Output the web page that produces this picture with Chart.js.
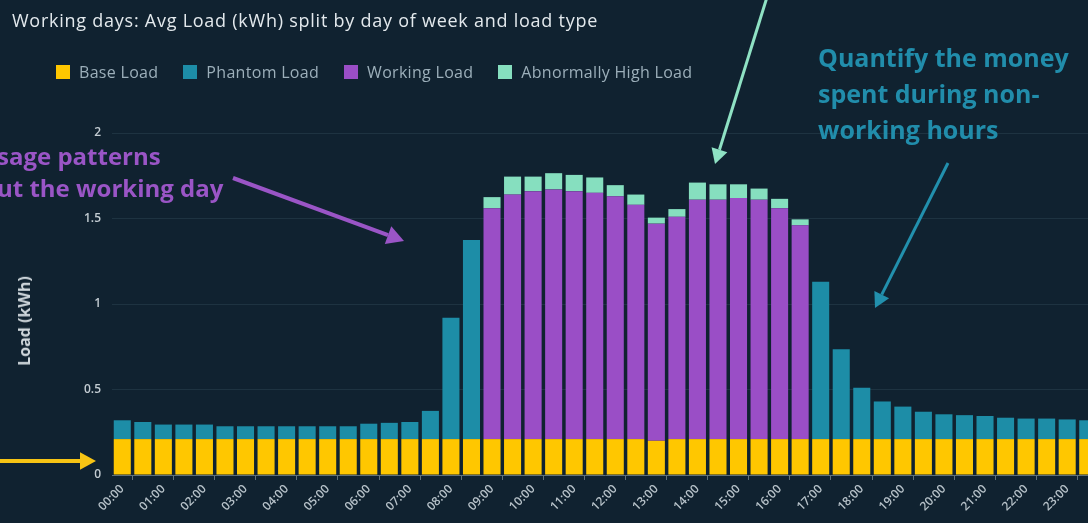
<!DOCTYPE html>
<html>
<head>
<meta charset="utf-8">
<script src="https://cdn.jsdelivr.net/npm/chart.js@4.4.1/dist/chart.umd.min.js"></script>
<style>
    html, body { margin: 0; padding: 0; background: #102230; width: 1088px; height: 523px; overflow: hidden; }
    #wrap { position: absolute; left: 0; top: 0; width: 1100px; height: 523px; }
    .title { position: absolute; left: 12px; top: 8px; font: 18px 'Open Sans', sans-serif; letter-spacing: 0.75px; color: #e3e9ed; white-space: nowrap; }
    .legend { position: absolute; left: 56px; top: 62px; display: flex; font: 16px 'Open Sans', sans-serif; letter-spacing: 0.3px; color: #9cafba; white-space: nowrap; }
    .legend .item { display: flex; align-items: center; margin-right: 25px; height: 20px; }
    .legend i { display: inline-block; width: 14px; height: 14px; margin-right: 9px; }
    .ytitle { position: absolute; left: 24px; top: 321px; transform: translate(-50%, -50%) rotate(-90deg); font: bold 16px 'Open Sans', sans-serif; color: #cfd7dc; white-space: nowrap; }
    .note { position: absolute; font-family: 'Open Sans', sans-serif; font-weight: bold; white-space: nowrap; }
    .note.purple { left: -3px; top: 140px; font-size: 24px; line-height: 32px; color: #9a55c6; }
    .note.teal { left: 818px; top: 39px; font-size: 25px; line-height: 36px; color: #218dab; }
</style>
</head>
<body>
<div id="wrap"><canvas id="chart" width="1100" height="523"></canvas></div>
<div class="title">Working days: Avg Load (kWh) split by day of week and load type</div>
<div class="legend" id="legend"></div>
<div class="ytitle">Load (kWh)</div>
<div class="note purple">sage patterns<br>ut the working day</div>
<div class="note teal">Quantify the money<br>spent during non-<br>working hours</div>
<script>
// half-hourly slots, only the full hours get a label
const slots = [
    '00:00', '00:30', '01:00', '01:30', '02:00', '02:30', '03:00', '03:30',
    '04:00', '04:30', '05:00', '05:30', '06:00', '06:30', '07:00', '07:30',
    '08:00', '08:30', '09:00', '09:30', '10:00', '10:30', '11:00', '11:30',
    '12:00', '12:30', '13:00', '13:30', '14:00', '14:30', '15:00', '15:30',
    '16:00', '16:30', '17:00', '17:30', '18:00', '18:30', '19:00', '19:30',
    '20:00', '20:30', '21:00', '21:30', '22:00', '22:30', '23:00', '23:30',
];

const baseLoad = [
    0.21, 0.21, 0.21, 0.21, 0.21, 0.21, 0.21, 0.21, 0.21, 0.21, 0.21, 0.21,
    0.21, 0.21, 0.21, 0.21, 0.21, 0.21, 0.21, 0.21, 0.21, 0.21, 0.21, 0.21,
    0.21, 0.21, 0.20, 0.21, 0.21, 0.21, 0.21, 0.21, 0.21, 0.21, 0.21, 0.21,
    0.21, 0.21, 0.21, 0.21, 0.21, 0.21, 0.21, 0.21, 0.21, 0.21, 0.21, 0.21,
];
const phantomLoad = [
    0.11, 0.10, 0.085, 0.085, 0.085, 0.075, 0.075, 0.075, 0.075, 0.075, 0.075, 0.075,
    0.09, 0.095, 0.10, 0.165, 0.71, 1.165, 0, 0, 0, 0, 0, 0,
    0, 0, 0, 0, 0, 0, 0, 0, 0, 0, 0.92, 0.525,
    0.30, 0.22, 0.19, 0.16, 0.145, 0.14, 0.135, 0.125, 0.12, 0.12, 0.115, 0.11,
];
const workingLoad = [
    null, null, null, null, null, null, null, null, null, null, null, null,
    null, null, null, null, null, null, 1.35, 1.43, 1.45, 1.46, 1.45, 1.44,
    1.42, 1.37, 1.27, 1.30, 1.40, 1.40, 1.41, 1.40, 1.35, 1.25, null, null,
    null, null, null, null, null, null, null, null, null, null, null, null,
];
const abnormalLoad = [
    null, null, null, null, null, null, null, null, null, null, null, null,
    null, null, null, null, null, null, 0.065, 0.105, 0.085, 0.095, 0.095, 0.09,
    0.065, 0.06, 0.035, 0.045, 0.10, 0.09, 0.08, 0.065, 0.055, 0.035, null, null,
    null, null, null, null, null, null, null, null, null, null, null, null,
];
const yTicks = [0, 0.5, 1, 1.5, 2];

const colors = {
    base: '#ffc700',
    phantom: '#1d8da7',
    working: '#9a4ec6',
    abnormal: '#86dfbf',
};

Chart.defaults.font.family = "'Open Sans', sans-serif";

const series = [
    { label: 'Base Load', data: baseLoad, color: colors.base },
    { label: 'Phantom Load', data: phantomLoad, color: colors.phantom },
    { label: 'Working Load', data: workingLoad, color: colors.working },
    { label: 'Abnormally High Load', data: abnormalLoad, color: colors.abnormal },
];

// html legend
const legendEl = document.getElementById('legend');
series.forEach((s) => {
    const item = document.createElement('span');
    item.className = 'item';
    item.innerHTML = '<i style="background:' + s.color + '"></i>' + s.label;
    legendEl.appendChild(item);
});

// arrows pointing at the chart (annotation layer)
const callouts = {
    id: 'callouts',
    afterDraw(chart) {
        const ctx = chart.ctx;
        const arrows = [
            { from: [768, -6], to: [715, 164], color: '#8fe2c4', width: 3, head: 15 },
            { from: [233, 178], to: [404, 241], color: '#9a55c6', width: 4, head: 17 },
            { from: [948, 163], to: [875, 308], color: '#2290ad', width: 3, head: 15 },
            { from: [-10, 461], to: [96, 461], color: '#f7c414', width: 4, head: 16 },
        ];
        ctx.save();
        arrows.forEach((a) => {
            const [x1, y1] = a.from;
            const [x2, y2] = a.to;
            const ang = Math.atan2(y2 - y1, x2 - x1);
            const bx = x2 - Math.cos(ang) * a.head;
            const by = y2 - Math.sin(ang) * a.head;
            ctx.strokeStyle = a.color;
            ctx.fillStyle = a.color;
            ctx.lineWidth = a.width;
            ctx.beginPath();
            ctx.moveTo(x1, y1);
            ctx.lineTo(bx, by);
            ctx.stroke();
            const hw = a.head * 0.55;
            ctx.beginPath();
            ctx.moveTo(x2, y2);
            ctx.lineTo(bx + Math.sin(ang) * hw, by - Math.cos(ang) * hw);
            ctx.lineTo(bx - Math.sin(ang) * hw, by + Math.cos(ang) * hw);
            ctx.closePath();
            ctx.fill();
        });
        ctx.restore();
    },
};

const axisColor = '#5f707b';

new Chart(document.getElementById('chart'), {
    type: 'bar',
    data: {
        labels: slots,
        datasets: series.map((s) => ({
            label: s.label,
            data: s.data,
            backgroundColor: s.color,
            borderWidth: 0,
            barPercentage: 0.83,
            categoryPercentage: 1,
        })),
    },
    options: {
        responsive: false,
        animation: false,
        layout: { padding: { top: 133, right: 2, left: 0, bottom: 0 } },
        plugins: {
            legend: { display: false },
            tooltip: { enabled: false },
        },
        scales: {
            x: {
                stacked: true,
                offset: true,
                grid: {
                    offset: true,
                    drawOnChartArea: false,
                    drawTicks: true,
                    tickLength: 5,
                    color: (c) => (c.index % 2 ? axisColor : 'transparent'),
                },
                border: { display: true, color: axisColor },
                ticks: {
                    autoSkip: false,
                    maxRotation: 45,
                    minRotation: 45,
                    padding: 2,
                    color: '#b7c2c9',
                    font: { size: 12, weight: '600' },
                    callback: (v, i) => (i % 2 === 0 ? slots[i] : ''),
                },
                afterFit: (axis) => { axis.height = 48; },
            },
            y: {
                stacked: true,
                min: 0,
                max: 2,
                afterBuildTicks: (axis) => { axis.ticks = yTicks.map((v) => ({ value: v })); },
                grid: { color: '#1e3341', drawTicks: false },
                border: { display: false },
                ticks: {
                    padding: 11,
                    color: '#c3ccd2',
                    font: { size: 12, weight: '600' },
                    callback: (v) => String(v),
                },
                afterFit: (axis) => { axis.width = 112; },
            },
        },
    },
    plugins: [callouts],
});
</script>
</body>
</html>
